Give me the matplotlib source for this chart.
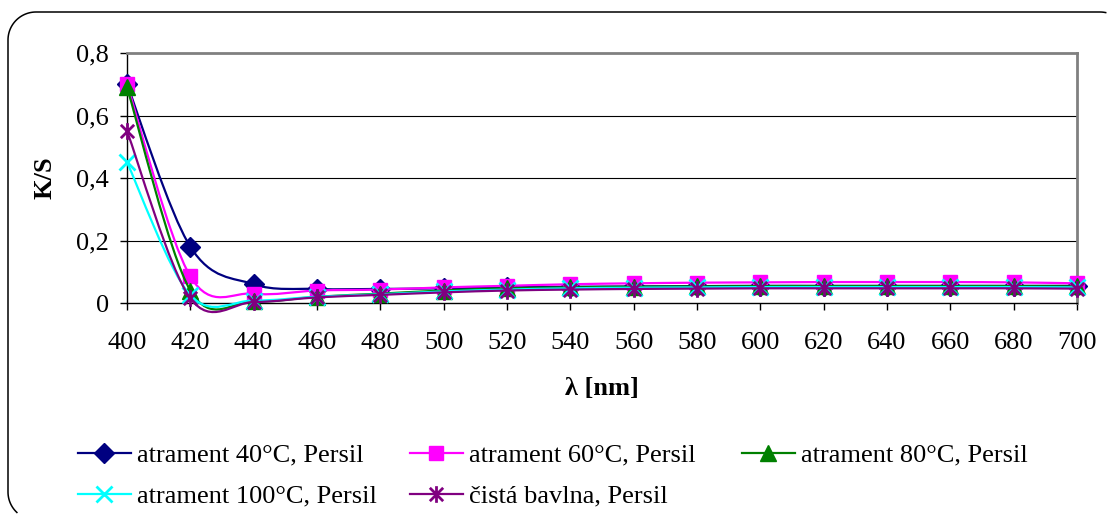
"""
K/S remission curves for ink stains washed with Persil at different temperatures.
Excel-style chart: smoothed lines with markers, comma decimals.
"""

import numpy as np
import matplotlib
matplotlib.use("Agg")
import matplotlib.pyplot as plt
from matplotlib.path import Path
from matplotlib.patches import PathPatch
from matplotlib.lines import Line2D

# ── Data ──────────────────────────────────────────────────────────────────────
WAVELENGTHS = [400, 420, 440, 460, 480, 500, 520, 540, 560, 580,
               600, 620, 640, 660, 680, 700]

KS_40C  = [0.700, 0.180, 0.060, 0.045, 0.045, 0.047, 0.050, 0.052,
           0.053, 0.054, 0.055, 0.055, 0.055, 0.055, 0.055, 0.055]
KS_60C  = [0.700, 0.085, 0.030, 0.040, 0.043, 0.050, 0.055, 0.060,
           0.063, 0.065, 0.066, 0.067, 0.067, 0.067, 0.066, 0.063]
KS_80C  = [0.690, 0.040, 0.005, 0.020, 0.030, 0.040, 0.047, 0.050,
           0.052, 0.053, 0.054, 0.054, 0.054, 0.054, 0.054, 0.053]
KS_100C = [0.450, 0.025, 0.008, 0.020, 0.028, 0.037, 0.043, 0.047,
           0.049, 0.050, 0.051, 0.051, 0.051, 0.051, 0.051, 0.050]
KS_BAVLNA = [0.550, 0.015, 0.003, 0.018, 0.026, 0.034, 0.040, 0.043,
             0.045, 0.046, 0.047, 0.047, 0.047, 0.047, 0.047, 0.046]

LABELS = ["atrament 40°C, Persil", "atrament 60°C, Persil",
          "atrament 80°C, Persil", "atrament 100°C, Persil",
          "čistá bavlna, Persil"]

Y_TICKS = [0, 0.2, 0.4, 0.6, 0.8]
Y_TICK_LABELS = ["0", "0,2", "0,4", "0,6", "0,8"]

# ── Style ─────────────────────────────────────────────────────────────────────
W, H = 1108, 514
FONT = "Liberation Serif"
FS = 19

# Excel-like asterisk: X plus a vertical bar
ASTERISK = Path([(-1, -1), (1, 1), (-1, 1), (1, -1), (0, -1.25), (0, 1.25)],
                [Path.MOVETO, Path.LINETO, Path.MOVETO, Path.LINETO,
                 Path.MOVETO, Path.LINETO])

STYLES = [
    dict(color="#000080", marker="D", ms=10.5, mew=1.0, filled=True),
    dict(color="#FF00FF", marker="s", ms=10.5, mew=1.0, filled=True),
    dict(color="#008000", marker="^", ms=11.5, mew=1.0, filled=True),
    dict(color="#00FFFF", marker="x", ms=11, mew=2.0, filled=False),
    dict(color="#800080", marker=ASTERISK, ms=12, mew=2.0, filled=False),
]

plt.rcParams["font.family"] = [FONT, "DejaVu Serif"]


def smooth_path(x, y):
    """Excel-style smoothed line: cubic Bezier segments (Catmull-Rom, /6)."""
    pts = np.column_stack([x, y]).astype(float)
    n = len(pts)
    verts = [pts[0]]
    codes = [Path.MOVETO]
    for i in range(n - 1):
        p_prev = pts[max(i - 1, 0)]
        p0, p1 = pts[i], pts[i + 1]
        p_next = pts[min(i + 2, n - 1)]
        c1 = p0 + (p1 - p_prev) / 6.0
        c2 = p1 - (p_next - p0) / 6.0
        verts += [c1, c2, p1]
        codes += [Path.CURVE4] * 3
    return Path(verts, codes)


def frame_polyline(left, top, right, bottom, r):
    """Rounded chart border as a polyline (pixels, y down), cut to the canvas."""
    def arc(cx, cy, a0, a1):
        t = np.radians(np.linspace(a0, a1, 24))
        return np.column_stack([cx + r * np.cos(t), cy + r * np.sin(t)])
    pts = np.vstack([
        arc(left + r, bottom - r, 90, 180),      # bottom-left corner
        arc(left + r, top + r, 180, 270),        # top-left corner
        arc(right - r, top + r, 270, 360),       # top-right corner
    ])
    keep = (pts[:, 0] <= W - 0.5) & (pts[:, 1] <= H - 0.5)
    pts = pts[keep]
    return pts[:, 0] / 100, (H - pts[:, 1]) / 100


fig = plt.figure(figsize=(W / 100, H / 100), dpi=100)
fig.patch.set_facecolor("white")

# rounded chart frame, partly off-canvas like the original
fx, fy = frame_polyline(8, 12, 1128, 520, 28)
fig.add_artist(Line2D(fx, fy, transform=fig.dpi_scale_trans,
                      color="black", lw=1.1, solid_joinstyle="round"))

ax = fig.add_axes([127 / W, 1 - 303 / H, 950 / W, 250 / H])
ax.set_xlim(400, 700)
ax.set_ylim(0, 0.8)

all_series = [KS_40C, KS_60C, KS_80C, KS_100C, KS_BAVLNA]
handles = []
for i, (vals, st) in enumerate(zip(all_series, STYLES)):
    path = smooth_path(WAVELENGTHS, vals)
    ax.add_patch(PathPatch(path, facecolor="none", edgecolor=st["color"],
                           lw=1.6, clip_on=False, zorder=3 + 2 * i))
    mfc = st["color"] if st["filled"] else "none"
    ax.plot(WAVELENGTHS, vals, linestyle="none", marker=st["marker"],
            ms=st["ms"], mfc=mfc, mec=st["color"], mew=st["mew"],
            clip_on=False, zorder=4 + 2 * i)
    handles.append(Line2D([], [], color=st["color"], lw=1.6,
                          marker=st["marker"], ms=st["ms"], mfc=mfc,
                          mec=st["color"], mew=st["mew"]))

# grid + borders
for yv in Y_TICKS[1:-1]:
    ax.axhline(yv, color="black", lw=0.8, zorder=1)
ax.spines["top"].set_color("#808080")
ax.spines["top"].set_linewidth(2.0)
ax.spines["right"].set_color("#808080")
ax.spines["right"].set_linewidth(2.0)
ax.spines["left"].set_linewidth(1.0)
ax.spines["bottom"].set_linewidth(1.0)

ax.set_xticks(WAVELENGTHS)
ax.set_xticklabels([str(w) for w in WAVELENGTHS])
ax.set_yticks(Y_TICKS)
ax.set_yticklabels(Y_TICK_LABELS)
ax.tick_params(axis="both", direction="out", length=5, width=1.0,
               labelsize=FS, colors="black")
ax.tick_params(axis="x", pad=16)
ax.tick_params(axis="y", pad=8)

ax.set_ylabel("K/S", fontsize=FS, fontweight="bold")
ax.yaxis.set_label_coords(-0.074, 0.5)
ax.set_xlabel("λ [nm]", fontsize=FS, fontweight="bold")
ax.xaxis.set_label_coords(0.5, -0.296)

# legend: one entry per slot, Excel row-major layout
slots = [(78, 455), (410, 455), (742, 455), (78, 496), (410, 496)]
for h, lab, (x0, yc) in zip(handles, LABELS, slots):
    fig.legend([h], [lab], loc="center left",
               bbox_to_anchor=(x0 / W, 1 - yc / H), frameon=False,
               borderpad=0, borderaxespad=0, handlelength=2.0,
               handletextpad=0.25, fontsize=FS)

fig.savefig("out.png", dpi=100, facecolor="white")
